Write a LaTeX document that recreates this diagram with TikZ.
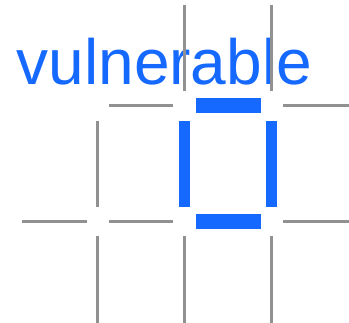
\documentclass[tikz,border=0pt]{standalone}
\usepackage{fontspec}
\setmainfont{Liberation Sans}
\definecolor{vblue}{RGB}{21,105,255}
\definecolor{lgray}{RGB}{145,145,145}
\begin{document}
\begin{tikzpicture}[x=1pt,y=-1pt,
  gline/.style={draw=lgray,line width=3pt},
  bh/.style={draw=vblue,line width=15pt},
  bv/.style={draw=vblue,line width=11pt}]
\useasboundingbox (0,0) rectangle (349,323);
\node[anchor=base west,inner sep=0pt,text=vblue,font=\fontsize{64}{64}\selectfont] (word) at (16.5,85) {vulnerable};
% top verticals
\draw[gline] (184.5,5) -- (184.5,91);
\draw[gline] (271.5,5) -- (271.5,91);
% row 1 horizontals
\draw[gline] (109,106) -- (173,106);
\draw[bh] (196,105.5) -- (261,105.5);
\draw[gline] (283,106) -- (349,106);
% middle verticals
\draw[gline] (97.5,121) -- (97.5,207);
\draw[bv] (184.8,121) -- (184.8,207);
\draw[bv] (271.8,121) -- (271.8,207);
% row 2 horizontals
\draw[gline] (22,222) -- (87,222);
\draw[gline] (109,222) -- (173,222);
\draw[bh] (196,221.8) -- (261,221.8);
\draw[gline] (283,222) -- (349,222);
% bottom verticals
\draw[gline] (97.5,236) -- (97.5,323);
\draw[gline] (184.5,236) -- (184.5,323);
\draw[gline] (271.5,236) -- (271.5,323);
\end{tikzpicture}
\end{document}
